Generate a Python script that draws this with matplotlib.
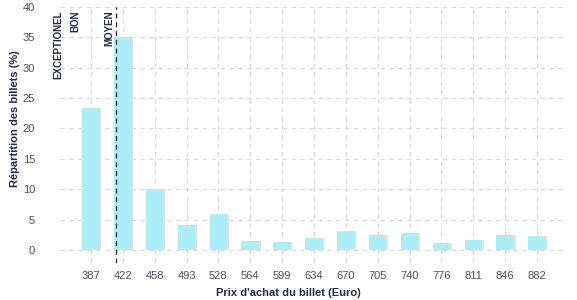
import numpy as np
import matplotlib
matplotlib.use("Agg")
import matplotlib.pyplot as plt

plt.rcParams['font.family'] = ['Liberation Sans', 'DejaVu Sans']

prices = [387, 422, 458, 493, 528, 564, 599, 634, 670, 705, 740, 776, 811, 846, 882]
shares = [23.3, 35.0, 10.0, 4.1, 5.9, 1.5, 1.3, 2.0, 3.1, 2.5, 2.8, 1.15, 1.6, 2.5, 2.3]
y_ticks = [0, 5, 10, 15, 20, 25, 30, 35, 40]
zone_labels = ["EXCEPTIONEL", "BON", "MOYEN"]
zone_limits = [358.5, 377.0, 414.7]   # price thresholds (Euro)
dashed_zone = "MOYEN"

bar_color = "#adedf8"
shadow_color = "#e2e2e2"
grid_color = "#d8d8d8"
text_dark = "#1e2b48"
tick_color = "#4a4f62"

fig = plt.figure(figsize=(5.77, 3.0), dpi=100)
ax = fig.add_axes([60/577, 1-263/300, (567-60)/577, (263-7)/300])

x = np.arange(len(prices))
width = 0.55
ax.bar(x + 0.05, shares, width=width, color=shadow_color, zorder=2)
ax.bar(x, shares, width=width, color=bar_color, zorder=3)

ax.set_xlim(-0.97, len(prices) - 1 + 0.94)
ax.set_ylim(-2.15, 40)
ax.set_yticks(y_ticks)
ax.set_xticks(x)
ax.set_xticklabels([str(p) for p in prices])

for s in ax.spines.values():
    s.set_visible(False)
ax.tick_params(axis='both', length=0, labelsize=8, colors=tick_color)
ax.tick_params(axis='y', pad=18)
ax.tick_params(axis='x', pad=6)

for yv in y_ticks:
    ax.axhline(yv, color=grid_color, lw=0.8, ls=(0, (4, 4)), zorder=1)
for xv in x:
    ax.axvline(xv, color=grid_color, lw=0.8, ls=(0, (4, 4)), zorder=1)

for lab, lim in zip(zone_labels, zone_limits):
    xp = (lim - prices[0]) / (prices[1] - prices[0])
    if lab == dashed_zone:
        ax.axvline(xp, color=text_dark, lw=0.9, ls=(0, (4, 3)), zorder=4)
    ax.text(xp - 0.06, 0.988, lab, transform=ax.get_xaxis_transform(),
            rotation=90, ha='right', va='top', fontsize=7,
            fontweight='bold', color=text_dark, zorder=5)

fig.text(0.5, 1-293/300, "Prix d'achat du billet (Euro)", ha='center', va='center',
         fontsize=8, fontweight='bold', color=text_dark)
fig.text(15/577, 1-119/300, "Répartition des billets (%)", ha='center', va='center',
         rotation=90, fontsize=8, fontweight='bold', color=text_dark)

fig.savefig("out.png", dpi=100)
